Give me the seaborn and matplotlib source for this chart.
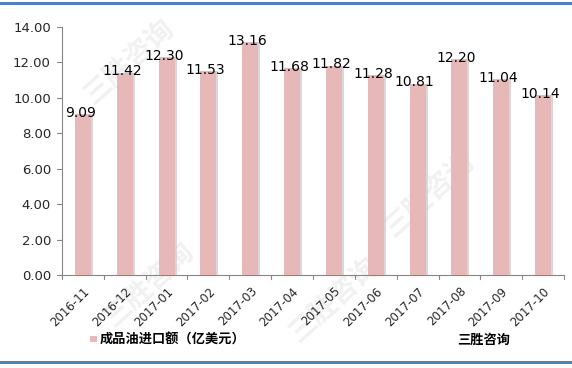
import matplotlib
matplotlib.use("Agg")
import matplotlib.pyplot as plt
import matplotlib.patheffects as pe
from matplotlib.patches import Rectangle
from matplotlib.lines import Line2D
import seaborn as sns
import pandas as pd

months = ["2016-11", "2016-12", "2017-01", "2017-02", "2017-03", "2017-04",
          "2017-05", "2017-06", "2017-07", "2017-08", "2017-09", "2017-10"]
values = [9.09, 11.42, 12.30, 11.53, 13.16, 11.68,
          11.82, 11.28, 10.81, 12.20, 11.04, 10.14]
yticks = [0, 2, 4, 6, 8, 10, 12, 14]
series_name = "成品油进口额（亿美元）"
source_text = "三胜咨询"

sns.set_theme(style="white")
plt.rcParams['font.family'] = ['Noto Sans CJK SC', 'DejaVu Sans']

df = pd.DataFrame({"month": months, "value": values})

fig = plt.figure(figsize=(5.72, 3.68), dpi=100)
ax = fig.add_axes([62/572, 1-275/368, (564-62)/572, (275-27)/368])
ax.set_zorder(2)

# faint watermarks (behind the plot)
for (wx, wy) in [(130/572, 1-62/368), (430/572, 1-195/368), (150/572, 1-285/368), (335/572, 1-300/368)]:
    fig.text(wx, wy, "三胜咨询", rotation=42, fontsize=20, color="#f1f1f1",
             ha="center", va="center", fontweight="bold", zorder=0)

sns.barplot(data=df, x="month", y="value", color="#E6B9B8", saturation=1,
            width=0.38, ax=ax, zorder=3)
for p in ax.patches:
    p.set_path_effects([pe.SimplePatchShadow(offset=(1.5, 0), shadow_rgbFace="#c8c8c8", alpha=0.7),
                        pe.Normal()])
    p.set_edgecolor("none")

for i, v in enumerate(values):
    ax.annotate(f"{v:.2f}", (i, v), xytext=(-2, -2), textcoords="offset points",
                ha="center", va="baseline", fontsize=10, color="#000000",
                family=['DejaVu Sans'], zorder=5)

ax.set_xlim(-0.5, len(months) - 0.5)
ax.set_ylim(0, 14)
ax.set_yticks(yticks)
ax.set_yticklabels([f"{t:.2f}" for t in yticks], fontsize=9.5, family=['DejaVu Sans'])
ax.set_xlabel("")
ax.set_ylabel("")
ax.patch.set_alpha(0)

ax.set_xticks(range(len(months)))
ax.set_xticklabels(months, rotation=45, ha="right", rotation_mode="anchor",
                   fontsize=8.5, family=['DejaVu Sans'])
ax.tick_params(axis="x", length=0, pad=7)
ax.tick_params(axis="y", length=0, pad=8)
for b in [i - 0.5 for i in range(len(months) + 1)]:
    ax.plot([b, b], [0, -0.25], color="#868686", lw=0.8, clip_on=False, zorder=4)
for t in yticks:
    ax.plot([-0.5, -0.62], [t, t], color="#868686", lw=0.8, clip_on=False, zorder=4)

for s in ["top", "right"]:
    ax.spines[s].set_visible(False)
for s in ["left", "bottom"]:
    ax.spines[s].set_color("#868686")
    ax.spines[s].set_linewidth(0.8)

# legend
fig.patches.append(Rectangle((90/572, 1-342/368), 7/572, 6/368, transform=fig.transFigure,
                             facecolor="#E6B9B8", edgecolor="none"))
fig.text(100/572, 1-340/368, series_name, fontsize=9.5, fontweight="bold",
         ha="left", va="center", color="#000000")
fig.text(457/572, 1-340/368, source_text, fontsize=9.5, fontweight="bold",
         ha="left", va="center", color="#000000")

# blue rules
fig.add_artist(Line2D([0, 1], [1-2.5/368, 1-2.5/368], transform=fig.transFigure,
                      color="#4F81BD", lw=2.2))
fig.add_artist(Line2D([0, 1], [1-361.5/368, 1-361.5/368], transform=fig.transFigure,
                      color="#4F81BD", lw=2.2))

fig.savefig("out.png", dpi=100)
